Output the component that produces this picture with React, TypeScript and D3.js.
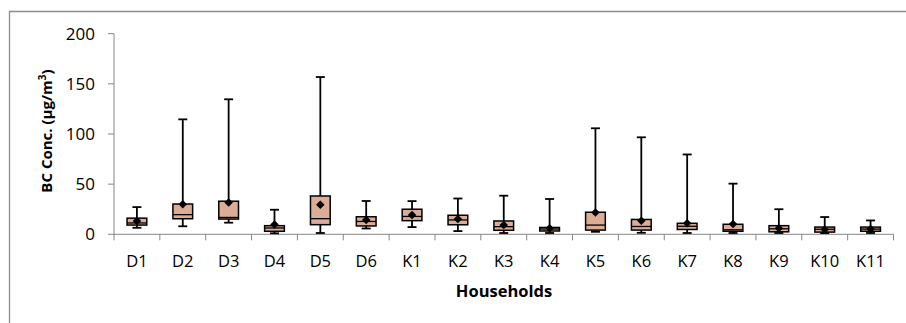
import React from 'react'
import * as d3 from 'd3'

// households and box statistics (µg/m³)
const households = ['D1', 'D2', 'D3', 'D4', 'D5', 'D6', 'K1', 'K2', 'K3', 'K4', 'K5', 'K6', 'K7', 'K8', 'K9', 'K10', 'K11']
const whiskerMin = [6.5, 8, 11.6, 1, 1.3, 5.8, 7.2, 3.2, 1.3, 1.3, 2.5, 1.5, 1.3, 1.3, 1.3, 1.2, 1.3]
const q1 = [9.2, 15.5, 15.2, 3, 9.6, 8.3, 13.6, 9.5, 4, 3.3, 4.2, 4.2, 4.8, 3, 2.5, 2.2, 3]
const median = [11.3, 19.6, 16.8, 6.3, 15.6, 12.8, 17.8, 14.3, 7.6, 5.3, 9.2, 7.8, 8, 4.5, 5.5, 5, 5.2]
const q3 = [16.1, 30.2, 33, 8.6, 38.2, 17.5, 25, 19, 13.3, 6.8, 22, 14.8, 11, 10, 8.6, 7.2, 7.2]
const whiskerMax = [27.1, 114.6, 134.6, 24.5, 156.8, 33.2, 33.1, 35.7, 38.5, 35.2, 105.7, 96.7, 79.6, 50.5, 25, 17.2, 13.8]
const means = [13.3, 30, 31.8, 9.8, 29.5, 14.3, 19.2, 15.3, 9.3, 6, 21.7, 13.6, 11, 10.3, 6, 4.8, 5.3]
const yTicks = [0, 50, 100, 150, 200]

const W = 906
const H = 323
const margin = { left: 114, right: 12.5, top: 33.7, bottom: 88.7 }
const font = "'Open Sans', 'Noto Sans', sans-serif"
const axisColor = '#868686'

export default function App() {
  const x = d3
    .scaleBand<string>()
    .domain(households)
    .range([margin.left, W - margin.right])
  const y = d3
    .scaleLinear()
    .domain([0, 200])
    .range([H - margin.bottom, margin.top])

  const bw = x.bandwidth()
  const boxW = bw * 0.43
  const capW = 9
  const y0 = y(0)
  // mean marker: square turned 45° so it reads as a diamond
  const marker = d3.symbol(d3.symbolSquare, 36)()

  return (
    <svg
      width={W}
      height={H}
      style={{ position: 'absolute', left: 0, top: 0 }}
      fontFamily={font}
    >
      <rect x={0} y={0} width={W} height={H} fill="#fff" />
      {/* chart frame */}
      <path d={`M9.5,${H}V11.5H${W}`} fill="none" stroke="#8c8c8c" strokeWidth={1.3} />

      {/* y axis */}
      <line x1={margin.left} x2={margin.left} y1={y(200)} y2={y0} stroke={axisColor} />
      {yTicks.map((t) => (
        <g key={t}>
          <line x1={margin.left - 6} x2={margin.left} y1={y(t)} y2={y(t)} stroke={axisColor} />
          <text x={95} y={y(t)} dy="0.36em" textAnchor="end" fontSize={17} fill="#000">
            {t}
          </text>
        </g>
      ))}

      {/* x axis */}
      <line x1={margin.left} x2={W - margin.right} y1={y0} y2={y0} stroke={axisColor} />
      {households.map((h) => (
        <line key={h} x1={x(h)} x2={x(h)} y1={y0} y2={y0 + 6} stroke={axisColor} />
      ))}
      <line x1={W - margin.right} x2={W - margin.right} y1={y0} y2={y0 + 6} stroke={axisColor} />
      {households.map((h) => (
        <text key={h} x={(x(h) as number) + bw / 2} y={267} textAnchor="middle" fontSize={16.5} fill="#000">
          {h}
        </text>
      ))}

      {/* boxes */}
      {households.map((h, i) => {
        const cx = (x(h) as number) + bw / 2
        return (
          <g key={h} stroke="#000">
            <line x1={cx} x2={cx} y1={y(whiskerMax[i])} y2={y(q3[i])} strokeWidth={1.8} />
            <line x1={cx} x2={cx} y1={y(q1[i])} y2={y(whiskerMin[i])} strokeWidth={1.8} />
            <line x1={cx - capW / 2} x2={cx + capW / 2} y1={y(whiskerMax[i])} y2={y(whiskerMax[i])} strokeWidth={1.8} />
            <line x1={cx - capW / 2} x2={cx + capW / 2} y1={y(whiskerMin[i])} y2={y(whiskerMin[i])} strokeWidth={1.8} />
            <rect
              x={cx - boxW / 2}
              y={y(q3[i])}
              width={boxW}
              height={y(q1[i]) - y(q3[i])}
              fill="#dcac97"
              strokeWidth={1.5}
            />
            <line x1={cx - boxW / 2} x2={cx + boxW / 2} y1={y(median[i])} y2={y(median[i])} strokeWidth={1.3} />
            <path
              d={marker as string}
              transform={`translate(${cx},${y(means[i])}) rotate(45)`}
              fill="#000"
              stroke="none"
            />
          </g>
        )
      })}

      {/* titles */}
      <text x={504} y={297} textAnchor="middle" fontSize={16.5} fontWeight="bold" fill="#000">
        Households
      </text>
      <text
        transform={`translate(52,${(y(200) + y0) / 2 - 3}) rotate(-90)`}
        textAnchor="middle"
        fontSize={15}
        fontWeight="bold"
        fill="#000"
      >
        BC Conc. (µg/m<tspan dy="-6" fontSize={10}>3</tspan>
        <tspan dy="6">)</tspan>
      </text>
    </svg>
  )
}
